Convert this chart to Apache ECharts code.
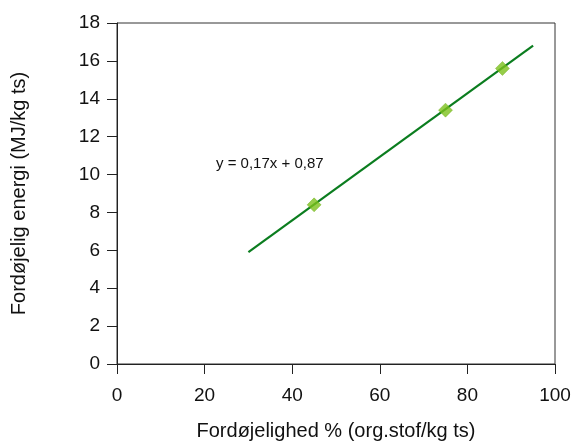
<!DOCTYPE html>
<html><head><meta charset="utf-8">
<script src="https://cdn.jsdelivr.net/npm/echarts@6/dist/echarts.min.js"></script>
<style>html,body{margin:0;padding:0;background:#fff}#c{width:577px;height:443px}</style>
</head><body><div id="c"></div>
<script>
const xName = 'Fordøjelighed % (org.stof/kg ts)';
const yName = 'Fordøjelig energi (MJ/kg ts)';
const pointsX = [45, 75, 88];
const pointsY = [8.4, 13.4, 15.6];
const trendX = [30, 95];
const trendY = [5.9, 16.8];
const equation = 'y = 0,17x + 0,87';

const chart = echarts.init(document.getElementById('c'));
const font = 'Liberation Sans, Arial, Helvetica, sans-serif';
chart.setOption({
  animation: false,
  grid: {left: 117, right: 22, top: 23, bottom: 79, show: true, borderColor: '#333', borderWidth: 1,
         containLabel: false, outerBoundsMode: 'none'},
  xAxis: {
    type: 'value', min: 0, max: 100, interval: 20,
    name: xName, nameLocation: 'middle', nameGap: 57,
    nameTextStyle: {fontFamily: font, fontSize: 20, color: '#111'},
    axisLine: {show: true, lineStyle: {color: '#222', width: 1}},
    axisTick: {show: true, length: 10, lineStyle: {color: '#222'}},
    axisLabel: {fontFamily: font, fontSize: 19, color: '#111', margin: 22},
    splitLine: {show: false}
  },
  yAxis: {
    type: 'value', min: 0, max: 18, interval: 2,
    name: yName, nameLocation: 'middle', nameGap: 88,
    nameTextStyle: {fontFamily: font, fontSize: 20, color: '#111'},
    axisLine: {show: true, lineStyle: {color: '#222', width: 1}},
    axisTick: {show: true, length: 10, lineStyle: {color: '#222'}},
    axisLabel: {fontFamily: font, fontSize: 19, color: '#111', margin: 17},
    splitLine: {show: false}
  },
  series: [
    {
      type: 'line', data: trendX.map((x, i) => [x, trendY[i]]),
      symbol: 'none', lineStyle: {color: '#0b7d1f', width: 2.2}, z: 2
    },
    {
      type: 'scatter', data: pointsX.map((x, i) => [x, pointsY[i]]),
      symbol: 'diamond', symbolSize: 14,
      itemStyle: {color: '#7cc01c', borderColor: '#6aab14', borderWidth: 0.5}, z: 3
    }
  ],
  graphic: [{
    type: 'text', left: 216, top: 156,
    style: {text: equation, font: '15px ' + font, fill: '#111'}
  }]
});
</script></body></html>
